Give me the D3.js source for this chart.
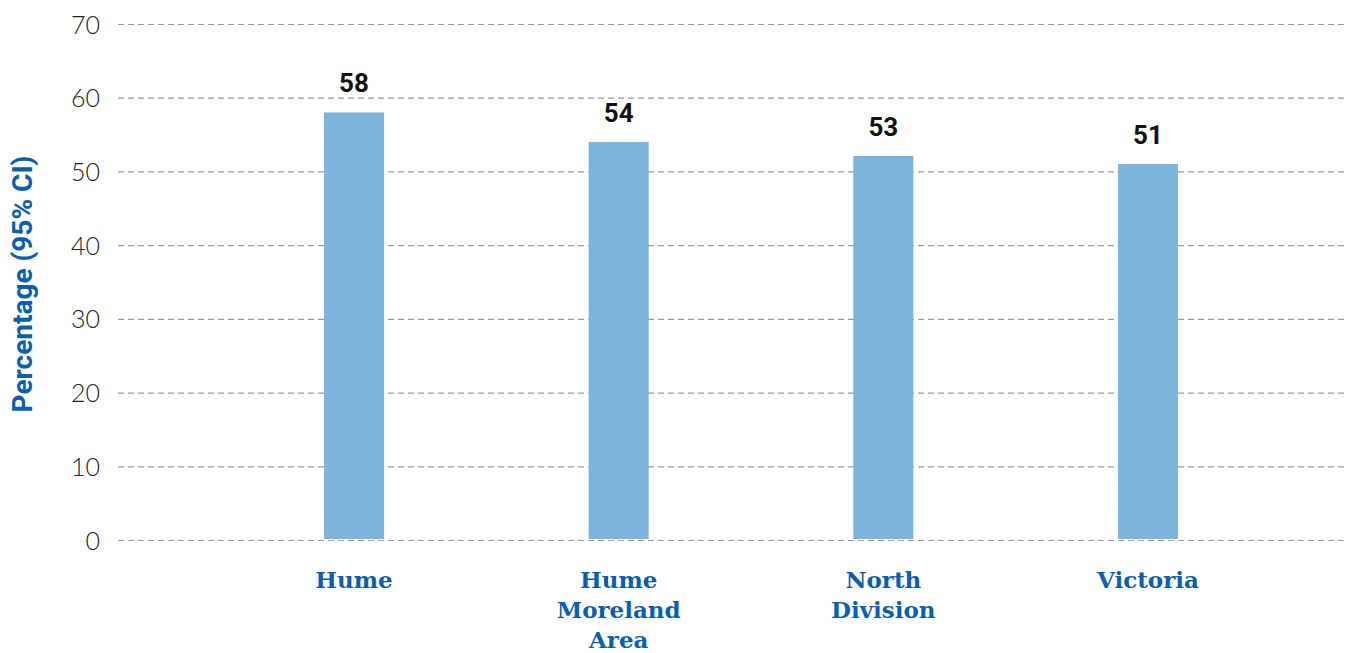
<!DOCTYPE html>
<html>
<head>
<meta charset="utf-8">
<script src="https://cdn.jsdelivr.net/npm/d3@7"></script>
<style>
  body { margin: 0; background: #fff; }
  .tick text { font-family: Lato, "Open Sans", sans-serif; font-weight: 300; }
</style>
</head>
<body>
<div id="wrapper"></div>
<script>
const categories = ["Hume", "Hume Moreland Area", "North Division", "Victoria"]
const categoryLines = [["Hume"], ["Hume", "Moreland", "Area"], ["North", "Division"], ["Victoria"]]
const values = [58, 54, 52.1, 51]
const valueLabels = ["58", "54", "53", "51"]
const yTicks = [0, 10, 20, 30, 40, 50, 60, 70]

const width = 1357
const height = 653

const svg = d3.select("#wrapper")
  .append("svg")
    .attr("width", width)
    .attr("height", height)

const yScale = d3.scaleLinear()
    .domain([0, 70])
    .range([540, 24])

const xScale = d3.scaleBand()
    .domain(categories)
    .range([221.7, 1280.3])
    .paddingInner(0.773)
    .paddingOuter(0.3865)

// gridlines + tick labels
const gridLeft = 118
const gridRight = 1348
const yAxis = svg.append("g")
    .attr("transform", `translate(${gridLeft},0)`)
    .call(d3.axisLeft(yScale)
      .tickValues(yTicks)
      .tickSize(-(gridRight - gridLeft))
      .tickPadding(18))
yAxis.select(".domain").remove()
yAxis.selectAll(".tick line")
    .attr("stroke", "#9a9a9a")
    .attr("stroke-width", 1.2)
    .attr("stroke-dasharray", "6,4")
yAxis.selectAll(".tick text")
    .attr("fill", "#222")
    .attr("font-size", 25)
    .attr("dy", "0.36em")

// bars
svg.append("g")
  .selectAll("rect")
  .data(values)
  .join("rect")
    .attr("x", (d, i) => xScale(categories[i]))
    .attr("width", xScale.bandwidth())
    .attr("y", d => yScale(d))
    .attr("height", d => yScale(0) - yScale(d) - 1)
    .attr("fill", "#7db4d9")

// value labels
svg.append("g")
  .selectAll("text")
  .data(values)
  .join("text")
    .attr("x", (d, i) => xScale(categories[i]) + xScale.bandwidth() / 2)
    .attr("y", d => yScale(d) - 20)
    .attr("text-anchor", "middle")
    .attr("font-family", "Roboto, sans-serif")
    .attr("font-weight", "bold")
    .attr("font-size", 26)
    .attr("fill", "#111")
    .text((d, i) => valueLabels[i])

// category labels
const catLabels = svg.append("g")
  .selectAll("text")
  .data(categories)
  .join("text")
    .attr("x", d => xScale(d) + xScale.bandwidth() / 2)
    .attr("y", 588)
    .attr("text-anchor", "middle")
    .attr("font-family", "'DejaVu Serif', serif")
    .attr("font-weight", "bold")
    .attr("font-size", 23)
    .attr("fill", "#0a5eab")
catLabels.selectAll("tspan")
  .data((d, i) => categoryLines[i])
  .join("tspan")
    .attr("x", function() { return this.parentNode.getAttribute("x") })
    .attr("dy", (d, i) => i === 0 ? 0 : 30)
    .text(d => d)

// y axis title
svg.append("text")
    .attr("transform", "translate(32,284) rotate(-90)")
    .attr("text-anchor", "middle")
    .attr("font-family", "Roboto, sans-serif")
    .attr("font-weight", "bold")
    .attr("font-size", 28)
    .attr("fill", "#0a5eab")
    .text("Percentage (95% CI)")
</script>
</body>
</html>
